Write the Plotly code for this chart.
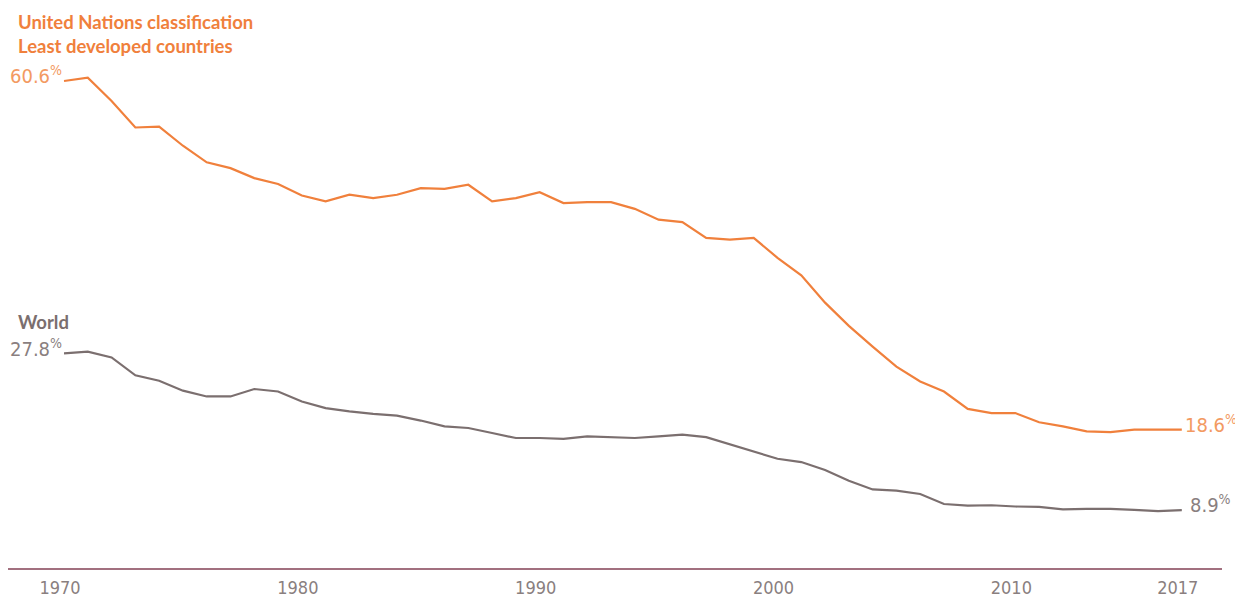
import plotly.graph_objects as go

years = list(range(1970, 2018))

ldc_values = [
    60.6, 61.0, 58.2, 55.0, 55.1, 52.8, 50.8, 50.1, 48.9, 48.2,
    46.8, 46.1, 46.9, 46.5, 46.9, 47.7, 47.6, 48.1, 46.1, 46.5,
    47.2, 45.9, 46.0, 46.0, 45.2, 43.9, 43.6, 41.7, 41.5, 41.7,
    39.3, 37.2, 33.9, 31.1, 28.6, 26.2, 24.4, 23.2, 21.1, 20.6,
    20.6, 19.5, 19.0, 18.4, 18.3, 18.6, 18.6, 18.6,
]

world_values = [
    27.8, 28.0, 27.3, 25.15, 24.5, 23.3, 22.6, 22.6, 23.5, 23.2,
    22.0, 21.2, 20.8, 20.5, 20.3, 19.7, 19.0, 18.8, 18.2, 17.6,
    17.6, 17.5, 17.8, 17.7, 17.6, 17.8, 18.0, 17.7, 16.85, 15.95,
    15.1, 14.7, 13.75, 12.45, 11.4, 11.25, 10.85, 9.65, 9.45, 9.5,
    9.35, 9.3, 9.0, 9.05, 9.05, 8.95, 8.8, 8.9,
]

tick_years = [1970, 1980, 1990, 2000, 2010, 2017]
tick_labels = ["1970", "1980", "1990", "2000", "2010", "2017"]

ldc_title = ["United Nations classification", "Least developed countries"]
world_title = "World"

ORANGE = "#F0803C"
ORANGE_LIGHT = "#F39A62"
GRAY = "#7B6F6F"
GRAY_LIGHT = "#8A7F7F"
AXIS = "#A2707F"
NUM_FONT = "DejaVu Sans Condensed, Roboto"
HEAD_FONT = "Lato"

fig = go.Figure()
fig.add_trace(go.Scatter(x=years, y=world_values, mode="lines",
                         line=dict(color=GRAY, width=2.2), hoverinfo="skip"))
fig.add_trace(go.Scatter(x=years, y=ldc_values, mode="lines",
                         line=dict(color=ORANGE, width=2.2), hoverinfo="skip"))


def pct(v):
    return f"{v}<sup>%</sup>"


num_font_o = dict(family=NUM_FONT, size=20, color=ORANGE_LIGHT, weight=300)
num_font_g = dict(family=NUM_FONT, size=20, color=GRAY_LIGHT, weight=300)

annotations = [
    # headers
    dict(text=f"<b>{ldc_title[0]}</b>", xref="paper", yref="paper", x=0.0066, y=0.9785,
         xanchor="left", yanchor="middle", showarrow=False,
         font=dict(family=HEAD_FONT, size=18.5, color=ORANGE)),
    dict(text=f"<b>{ldc_title[1]}</b>", xref="paper", yref="paper", x=0.0066, y=0.9346,
         xanchor="left", yanchor="middle", showarrow=False,
         font=dict(family=HEAD_FONT, size=18.5, color=ORANGE)),
    dict(text=f"<b>{world_title}</b>", xref="paper", yref="paper", x=0.0066, y=0.4409,
         xanchor="left", yanchor="middle", showarrow=False,
         font=dict(family=HEAD_FONT, size=18.5, color=GRAY)),
    # value labels
    dict(text=pct(ldc_values[0]), x=years[0], y=ldc_values[0], xanchor="right", yanchor="middle",
         xshift=0, yshift=6, showarrow=False, font=num_font_o),
    dict(text=pct(world_values[0]), x=years[0], y=world_values[0], xanchor="right", yanchor="middle",
         xshift=0, yshift=5, showarrow=False, font=num_font_g),
    dict(text=pct(ldc_values[-1]), x=years[-1], y=ldc_values[-1], xanchor="left", yanchor="middle",
         xshift=1, yshift=6, showarrow=False, font=num_font_o),
    dict(text=pct(world_values[-1]), x=years[-1], y=world_values[-1], xanchor="left", yanchor="middle",
         xshift=6, yshift=6, showarrow=False, font=num_font_g),
]

fig.update_layout(
    width=1235, height=598,
    margin=dict(l=8, r=13, t=10, b=30),
    paper_bgcolor="white", plot_bgcolor="white",
    showlegend=False,
    annotations=annotations,
    xaxis=dict(range=[1967.645, 2018.69], showgrid=False, zeroline=False,
               showline=True, linecolor=AXIS, linewidth=1.5, automargin=False,
               tickmode="array", tickvals=tick_years, ticktext=tick_labels,
               ticks="", ticklabelstandoff=3, ticklabelshift=-4,
               tickfont=dict(family=NUM_FONT, size=18, color=GRAY_LIGHT, weight=300)),
    yaxis=dict(range=[1.94, 69.15], showgrid=False, zeroline=False, automargin=False,
               showline=False, showticklabels=False),
)

fig.write_html("out.html", config={"displayModeBar": False},
               post_script="document.body.style.margin='0px';")
